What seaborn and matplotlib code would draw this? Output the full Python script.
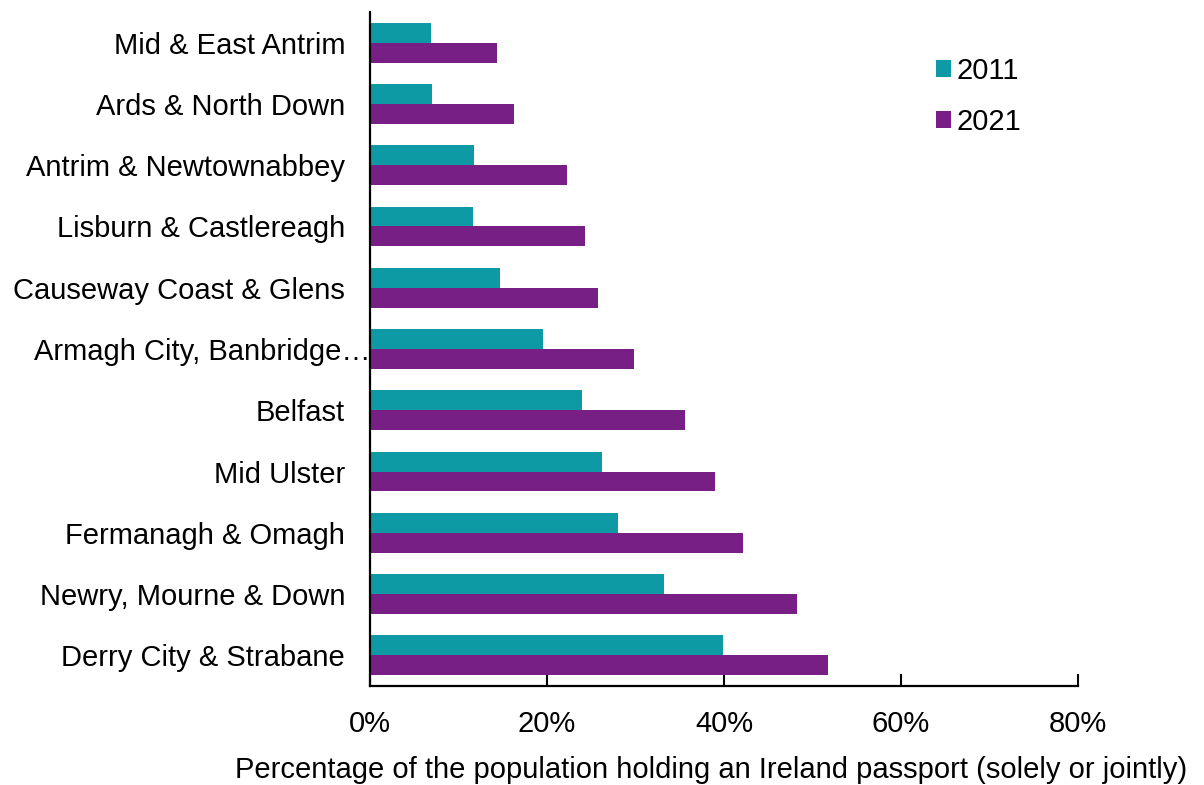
import matplotlib
matplotlib.use("Agg")
import matplotlib.pyplot as plt
import matplotlib.transforms as mtransforms
from matplotlib.patches import Patch
from matplotlib.ticker import FuncFormatter
import seaborn as sns
import pandas as pd

categories = [
    "Mid & East Antrim",
    "Ards & North Down",
    "Antrim & Newtownabbey",
    "Lisburn & Castlereagh",
    "Causeway Coast & Glens",
    "Armagh City, Banbridge…",
    "Belfast",
    "Mid Ulster",
    "Fermanagh & Omagh",
    "Newry, Mourne & Down",
    "Derry City & Strabane",
]
values_2011 = [6.9, 7.0, 11.7, 11.6, 14.7, 19.5, 23.9, 26.2, 28.0, 33.2, 39.9]
values_2021 = [14.4, 16.3, 22.3, 24.3, 25.8, 29.8, 35.6, 39.0, 42.2, 48.3, 51.8]
series = ["2011", "2021"]
xticks = [0, 20, 40, 60, 80]
colors = ["#0E9AA5", "#781F85"]

df = pd.DataFrame({
    "category": categories * 2,
    "value": values_2011 + values_2021,
    "year": [series[0]] * len(categories) + [series[1]] * len(categories),
})

sns.set_theme(style="white")
plt.rcParams["font.family"] = ["Liberation Sans", "DejaVu Sans"]
plt.rcParams["text.color"] = "black"

fig = plt.figure(figsize=(12.04, 7.85), dpi=100)
ax = fig.add_axes([370 / 1204, 1 - 686 / 785, 708 / 1204, 674 / 785])

sns.barplot(data=df, y="category", x="value", hue="year", order=categories,
            hue_order=series, palette=colors, orient="h", width=0.65,
            dodge=True, gap=0, saturation=1, ax=ax, legend=False, edgecolor="none")

ax.set_xlim(0, 80)
ax.set_ylim(10.5, -0.5)
ax.set_xticks(xticks)
ax.xaxis.set_major_formatter(FuncFormatter(lambda v, p: f"{v:.0f}%"))
ax.tick_params(axis="x", direction="in", length=9, width=1.5, color="black",
               labelsize=21, pad=17, bottom=True, labelcolor="black")
ax.tick_params(axis="y", length=0, labelsize=21, pad=18, labelcolor="black")
ax.set_ylabel("")
ax.set_xlabel("Percentage of the population holding an Ireland passport (solely or jointly)",
              fontsize=21, color="black")
ax.xaxis.set_label_coords(0.482, -0.104)

for s in ["top", "right"]:
    ax.spines[s].set_visible(False)
for s in ["left", "bottom"]:
    ax.spines[s].set_color("black")
    ax.spines[s].set_linewidth(1.6)

for lab in ax.get_yticklabels():
    if lab.get_text().endswith("…"):
        lab.set_transform(lab.get_transform() +
                          mtransforms.ScaledTranslation(0.26, 0, fig.dpi_scale_trans))

handles = [Patch(facecolor=c, edgecolor="none") for c in colors]
fig.legend(handles, series, loc="upper left",
           bbox_to_anchor=(936 / 1204, 1 - 57 / 785), frameon=False,
           fontsize=21, handlelength=0.52, handleheight=0.52, labelcolor="black",
           handletextpad=0.2, labelspacing=0.78, borderpad=0, borderaxespad=0)

fig.savefig("out.png", dpi=100, facecolor="white")
